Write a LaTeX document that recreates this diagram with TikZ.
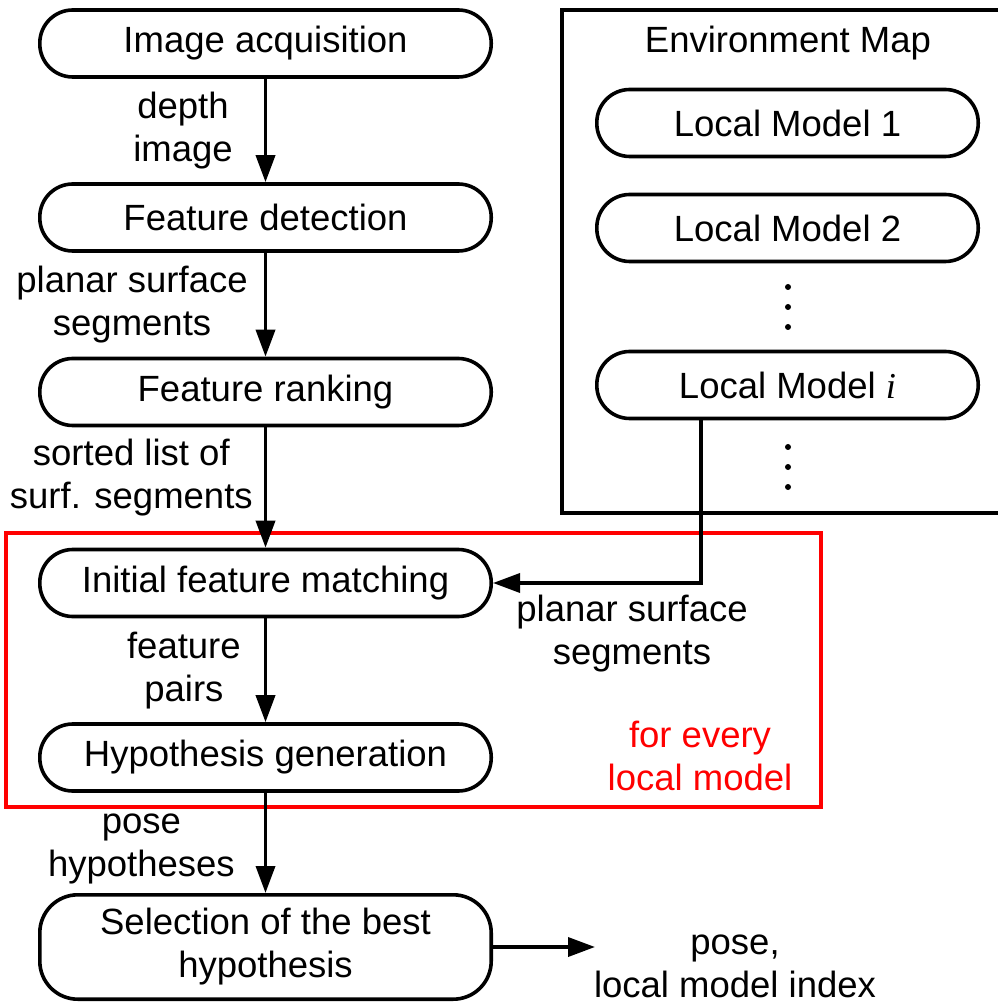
\documentclass[tikz,border=0pt]{standalone}
\usepackage{fontspec}
\setmainfont{Liberation Sans}
\newfontfamily\timesfont{Liberation Serif}
\usetikzlibrary{positioning,arrows.meta}

\begin{document}
\begin{tikzpicture}
[x=0.5pt, y=-0.5pt,
    font=\fontsize{18.25pt}{21.5pt}\selectfont,
    >={Triangle[length=13.5pt,width=9.5pt]},
    stepbox/.style={draw, rectangle, rounded corners=16.5pt,
        line width=1.8pt, minimum width=225.7pt, minimum height=33.5pt,
        inner sep=0pt, align=center},
    modelbox/.style={stepbox, minimum width=190.7pt},
    flow/.style={->, line width=1.8pt},
    lbl/.style={inner sep=0pt, align=center},
    ]
    \useasboundingbox (0,0) rectangle (998,1004);

    % frames first, so the arrows lie on top
    \draw[red, line width=1.9pt] (6,533) rectangle (821,807);
    \draw[line width=1.8pt] (998,10) -- (562,10) -- (562,513) -- (998,513);

    % processing chain
    \node[stepbox] (acq) at (265.5,43.5) {Image acquisition};
    \node[stepbox] (det) at (265.5,217.5) {Feature detection};
    \node[stepbox] (rank) at (265.5,392) {Feature ranking};
    \node[stepbox] (match) at (265.5,583) {Initial feature matching};
    \node[stepbox] (hyp) at (265.5,757.5) {Hypothesis generation};
    \node[stepbox, minimum height=52.2pt, rounded corners=19pt] (sel) at (265.5,947)
        {Selection of the best\\hypothesis};

    \draw[flow] (acq) -- node[lbl, left=15.5pt] {depth\\image} (det);
    \draw[flow] (det) -- node[lbl, left=8pt] {planar surface\\segments} (rank);
    \draw[flow] (rank) -- node[lbl, left=5.5pt, pos=0.42] {sorted list of\\surf. segments} (match);
    \draw[flow] (match) -- node[lbl, left=11.5pt] {feature\\pairs} (hyp);
    \draw[flow] (hyp) -- node[lbl, left=14.5pt, pos=0.56] {pose\\hypotheses} (sel);

    % environment map
    \node (envtitle) at (788,43) {Environment Map};
    \node[modelbox] (lm1) at (787.5,123) {Local Model 1};
    \node[modelbox] (lm2) at (787.5,228) {Local Model 2};
    \node[modelbox] (lmi) at (787.5,385) {Local Model {\timesfont\itshape i}};
    \foreach \yy in {287,307,327,447,467,487}
        \fill (788,\yy) circle (1.5pt);

    \coordinate (tap) at (701,0);
    \draw[flow] (lmi.south -| tap) |- (match.east);
    \node[lbl] (psurf) at (632,634) {planar surface\\segments};

    \node[lbl, text=red] (every) at (700,756) {for every\\local model};

    % result
    \coordinate (outend) at (595,947);
    \draw[flow] (sel.east) -- (outend);
    \node[lbl] (result) at (735,966) {pose,\\local model index};
\end{tikzpicture}
\end{document}
